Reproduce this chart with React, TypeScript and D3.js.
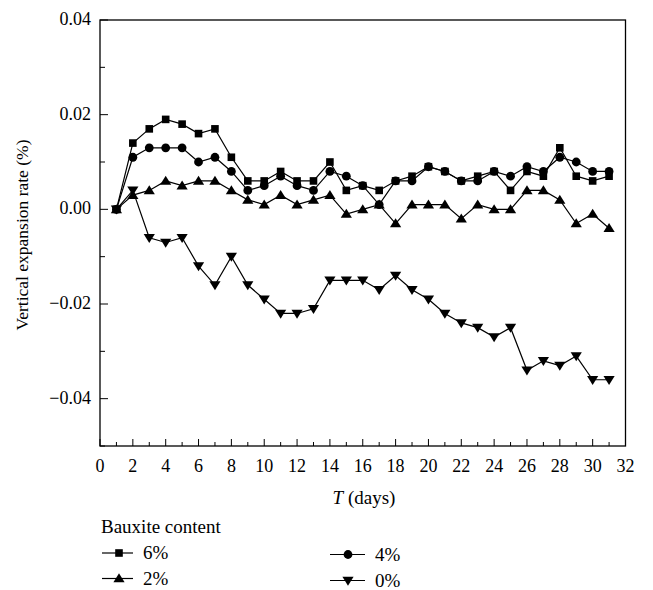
import React from "react";
import * as d3 from "d3";

const days = d3.range(1, 32);
const s6 = [0, 0.014, 0.017, 0.019, 0.018, 0.016, 0.017, 0.011, 0.006, 0.006, 0.008, 0.006, 0.006, 0.010, 0.004, 0.005, 0.004, 0.006, 0.007, 0.009, 0.008, 0.006, 0.007, 0.008, 0.004, 0.008, 0.007, 0.013, 0.007, 0.006, 0.007];
const s4 = [0, 0.011, 0.013, 0.013, 0.013, 0.010, 0.011, 0.008, 0.004, 0.005, 0.007, 0.005, 0.004, 0.008, 0.007, 0.005, 0.001, 0.006, 0.006, 0.009, 0.008, 0.006, 0.006, 0.008, 0.007, 0.009, 0.008, 0.011, 0.010, 0.008, 0.008];
const s2 = [0, 0.003, 0.004, 0.006, 0.005, 0.006, 0.006, 0.004, 0.002, 0.001, 0.003, 0.001, 0.002, 0.003, -0.001, 0.000, 0.001, -0.003, 0.001, 0.001, 0.001, -0.002, 0.001, 0.000, 0.000, 0.004, 0.004, 0.002, -0.003, -0.001, -0.004];
const s0 = [0, 0.004, -0.006, -0.007, -0.006, -0.012, -0.016, -0.010, -0.016, -0.019, -0.022, -0.022, -0.021, -0.015, -0.015, -0.015, -0.017, -0.014, -0.017, -0.019, -0.022, -0.024, -0.025, -0.027, -0.025, -0.034, -0.032, -0.033, -0.031, -0.036, -0.036];

const seriesNames = ["6%", "4%", "2%", "0%"];
const seriesMarkers = ["square", "circle", "triangle", "down"];
const seriesValues = [s6, s4, s2, s0];

const xTickLabels = d3.range(0, 33, 2);
const yTickLabels = [0.04, 0.02, 0.0, -0.02, -0.04];

const FONT = "'Liberation Serif', 'DejaVu Serif', serif";

function Marker({ type, x, y }: { type: string; x: number; y: number }) {
  if (type === "square") return <rect x={x - 3.8} y={y - 3.8} width={7.6} height={7.6} fill="#000" />;
  if (type === "circle") return <circle cx={x} cy={y} r={4.4} fill="#000" />;
  if (type === "triangle")
    return <path d={`M${x},${y - 5.2} L${x + 5.6},${y + 3.8} L${x - 5.6},${y + 3.8} Z`} fill="#000" />;
  return <path d={`M${x},${y + 5.2} L${x + 5.6},${y - 3.8} L${x - 5.6},${y - 3.8} Z`} fill="#000" />;
}

export default function App() {
  const W = 653, H = 590;
  const left = 100, right = 625.5, top = 20, bottom = 446;
  const x = d3.scaleLinear().domain([0, 32]).range([left, right]);
  const y = d3.scaleLinear().domain([-0.05, 0.04]).range([bottom, top]);
  const line = d3.line<number>().x((_, i) => x(days[i])).y((d) => y(d));
  const fmt = (v: number) => (v < 0 ? "\u2212" : "") + Math.abs(v).toFixed(2);

  const xMinor = d3.range(1, 32, 2);
  const yMinor = [0.03, 0.01, -0.01, -0.03, -0.05];

  const legendPos = [
    { lx: 102, len: 31, mk: 17, ly: 553 },
    { lx: 330, len: 35, mk: 18, ly: 554.5 },
    { lx: 102, len: 31, mk: 17, ly: 578.5 },
    { lx: 330, len: 35, mk: 18, ly: 580.5 },
  ];

  return (
    <svg width={W} height={H} style={{ position: "absolute", left: 0, top: 0 }} fontFamily={FONT}>
      <rect x={0} y={0} width={W} height={H} fill="#fff" />
      {xTickLabels.map((t) => (
        <g key={"xt" + t}>
          <line x1={x(t)} x2={x(t)} y1={bottom} y2={bottom - 7} stroke="#000" strokeWidth={1} />
          <text x={x(t)} y={bottom + 26} textAnchor="middle" fontSize={18}>{t}</text>
        </g>
      ))}
      {xMinor.map((t) => (
        <line key={"xm" + t} x1={x(t)} x2={x(t)} y1={bottom} y2={bottom - 4} stroke="#000" strokeWidth={1} />
      ))}
      {yTickLabels.map((t) => (
        <g key={"yt" + t}>
          <line x1={left} x2={left + 8} y1={y(t)} y2={y(t)} stroke="#000" strokeWidth={1} />
          <text x={91} y={y(t) + 5} textAnchor="end" fontSize={18}>{fmt(t)}</text>
        </g>
      ))}
      {yMinor.map((t) => (
        <line key={"ym" + t} x1={left} x2={left + 5} y1={y(t)} y2={y(t)} stroke="#000" strokeWidth={1} />
      ))}
      <rect x={left} y={top} width={right - left} height={bottom - top} fill="none" stroke="#000" strokeWidth={1.3} />

      {seriesValues.map((vals, si) => (
        <g key={"s" + si}>
          <path d={line(vals) || ""} fill="none" stroke="#000" strokeWidth={1.2} />
          {vals.map((v, i) => (
            <Marker key={i} type={seriesMarkers[si]} x={x(days[i])} y={y(v)} />
          ))}
        </g>
      ))}

      <text x={364} y={504} textAnchor="middle" fontSize={19}>
        <tspan fontStyle="italic">T</tspan> (days)
      </text>
      <text transform={`translate(28,${(top + bottom) / 2 + 2}) rotate(-90)`} textAnchor="middle" fontSize={17.5}>
        Vertical expansion rate (%)
      </text>

      <text x={101} y={533} fontSize={19}>Bauxite content</text>
      {legendPos.map((p, k) => (
        <g key={"lg" + k}>
          <line x1={p.lx} x2={p.lx + p.len} y1={p.ly} y2={p.ly} stroke="#000" strokeWidth={1.2} />
          <Marker type={seriesMarkers[k]} x={p.lx + p.mk} y={p.ly} />
          <text x={p.lx + p.len + 10} y={p.ly + 6} fontSize={19}>{seriesNames[k]}</text>
        </g>
      ))}
    </svg>
  );
}
